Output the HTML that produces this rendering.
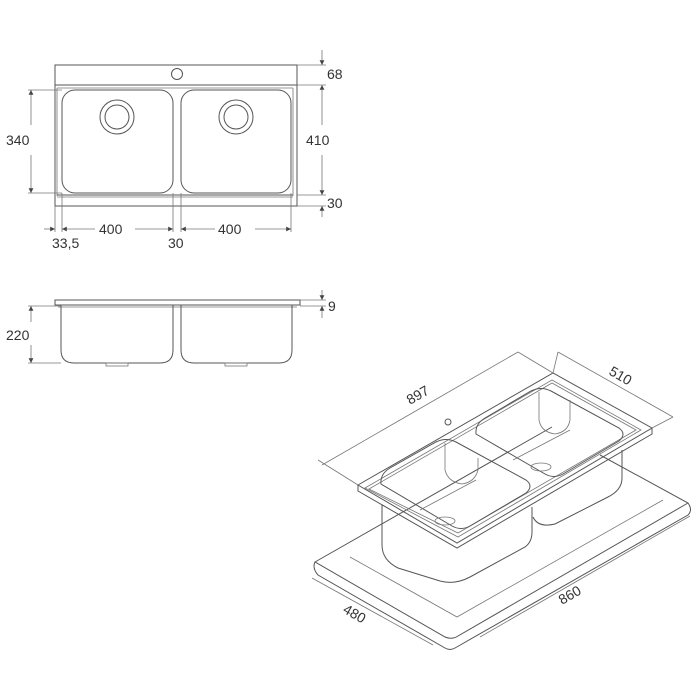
<!DOCTYPE html>
<html><head><meta charset="utf-8"><style>
html,body{margin:0;padding:0;background:#fff;}
svg{display:block;}
text{font-family:"Liberation Sans",sans-serif;font-size:14px;fill:#333;}
.l{fill:none;stroke:#555;stroke-width:1;}
.t{fill:none;stroke:#777;stroke-width:0.8;}
</style></head><body>
<svg width="700" height="700" viewBox="0 0 700 700" xmlns="http://www.w3.org/2000/svg">
<defs><marker id="a" viewBox="0 0 6 6" refX="6" refY="3" markerWidth="6" markerHeight="6" orient="auto-start-reverse"><path d="M0,0 L6,3 L0,6 z" fill="#444"/></marker></defs>
<!-- TOP VIEW -->
<rect class="l" x="55" y="65" width="242" height="141"/>
<line class="l" x1="55" y1="85" x2="297" y2="85"/>
<line class="t" x1="57" y1="88" x2="293" y2="88"/>
<line class="t" x1="57" y1="88" x2="57" y2="196"/>
<line class="t" x1="293" y1="88" x2="293" y2="196"/>
<line class="l" x1="57" y1="195" x2="293" y2="195"/>
<line class="t" x1="57" y1="197" x2="293" y2="197"/>
<circle class="l" cx="177" cy="74" r="5.5"/>
<rect class="l" x="62" y="90" width="111" height="103" rx="13"/>
<rect class="l" x="181" y="90" width="110" height="103" rx="13"/>
<circle class="l" cx="117" cy="117" r="17"/><circle class="l" cx="117" cy="117" r="12"/>
<circle class="l" cx="236" cy="117" r="17"/><circle class="l" cx="236" cy="117" r="12"/>
<line class="t" x1="28" y1="90" x2="62" y2="90"/><line class="t" x1="28" y1="193" x2="62" y2="193"/>
<line class="t" x1="31" y1="90" x2="31" y2="125" marker-start="url(#a)"/>
<line class="t" x1="31" y1="155" x2="31" y2="193" marker-end="url(#a)"/>
<text x="6" y="145">340</text>
<line class="t" x1="297" y1="65" x2="326" y2="65"/>
<line class="t" x1="297" y1="85" x2="326" y2="85"/>
<line class="t" x1="297" y1="195" x2="326" y2="195"/>
<line class="t" x1="297" y1="206" x2="326" y2="206"/>
<line class="t" x1="322" y1="50" x2="322" y2="65" marker-end="url(#a)"/>
<line class="t" x1="322" y1="85" x2="322" y2="125" marker-start="url(#a)"/>
<line class="t" x1="322" y1="155" x2="322" y2="195" marker-end="url(#a)"/>
<line class="t" x1="322" y1="206" x2="322" y2="217" marker-start="url(#a)"/>
<text x="327" y="79">68</text>
<text x="306" y="145">410</text>
<text x="327" y="208">30</text>
<line class="t" x1="55" y1="206" x2="55" y2="232"/>
<line class="t" x1="62" y1="193" x2="62" y2="232"/>
<line class="t" x1="173" y1="193" x2="173" y2="232"/>
<line class="t" x1="181" y1="193" x2="181" y2="232"/>
<line class="t" x1="291" y1="193" x2="291" y2="232"/>
<line class="t" x1="44" y1="229" x2="55" y2="229" marker-end="url(#a)"/>
<line class="t" x1="62" y1="229" x2="95" y2="229" marker-start="url(#a)"/>
<line class="t" x1="135" y1="229" x2="173" y2="229" marker-end="url(#a)"/>
<line class="t" x1="181" y1="229" x2="215" y2="229" marker-start="url(#a)"/>
<line class="t" x1="255" y1="229" x2="291" y2="229" marker-end="url(#a)"/>
<text x="99" y="234">400</text>
<text x="218" y="234">400</text>
<text x="52" y="248">33,5</text>
<text x="168" y="248">30</text>
<!-- SIDE VIEW -->
<rect class="l" x="55" y="300" width="245" height="5"/>
<line class="t" x1="58" y1="307" x2="297" y2="307"/>
<path class="l" d="M61,305 V350 Q61,363 74,363 H160 Q173,363 173,350 V305"/>
<path class="l" d="M181,305 V350 Q181,363 194,363 H279 Q292,363 292,350 V305"/>
<rect class="t" x="106" y="363" width="22" height="3"/>
<rect class="t" x="225" y="363" width="22" height="3"/>
<line class="t" x1="28" y1="306" x2="61" y2="306"/><line class="t" x1="28" y1="363" x2="61" y2="363"/>
<line class="t" x1="31" y1="306" x2="31" y2="322" marker-start="url(#a)"/>
<line class="t" x1="31" y1="345" x2="31" y2="363" marker-end="url(#a)"/>
<text x="6" y="340">220</text>
<line class="t" x1="300" y1="300" x2="326" y2="300"/><line class="t" x1="300" y1="306" x2="326" y2="306"/>
<line class="t" x1="322" y1="290" x2="322" y2="300" marker-end="url(#a)"/>
<line class="t" x1="322" y1="306" x2="322" y2="318" marker-start="url(#a)"/>
<text x="328" y="311">9</text>
<!-- ISOMETRIC -->
<path class="l" d="M315,562 L552,427 M600,455 L688,503 Q693,510 688,515 L455,648 Q450,651 445,648 L318,575 Q312,568 315,562 L445,637 Q452,640 458,636 L688,503"/>
<path class="t" d="M350,557 L457,617 L663,500"/>
<path class="l" d="M382,505 V545 Q382,560 398,568 L440,581 Q455,585 470,577 L525,547 Q532,542 532,532 V507"/>
<path class="l" d="M533,517 Q538,528 555,524 L608,497 Q622,490 622,478 V450"/>
<path class="l" d="M358,485 L553,373 L652,428 L457,543 Z"/>
<path class="l" d="M358,485 L358,491 L457,548 L652,434 L652,428"/>
<path class="t" d="M365,488 L552,380 L641,430 L458,537 Z"/>
<path class="t" d="M369,489 L552,383 L636,430 L458,533 Z"/>
<circle class="l" cx="448" cy="422" r="3"/>
<path class="l" d="M381,484 Q380,474 390,468 L436,442 Q446,437 456,442 L526,480 Q534,486 526,493 L470,526 Q461,531 452,526 Z"/>
<path class="t" d="M445,443 V470 Q448,482 462,484 Q475,482 478,470 V458"/>
<path class="t" d="M420,510 L476,480"/>
<ellipse class="t" cx="445" cy="521" rx="10" ry="4"/>
<path class="l" d="M476,434 Q475,424 485,418 L531,391 Q541,386 551,391 L619,428 Q627,434 619,441 L563,474 Q554,479 545,474 Z"/>
<path class="t" d="M539,392 V420 Q541,432 555,434 Q568,432 570,420 V400"/>
<path class="t" d="M513,460 L570,430"/>
<ellipse class="t" cx="541" cy="467" rx="10" ry="4"/>
<line class="t" x1="322" y1="465" x2="518" y2="352"/>
<line class="t" x1="318" y1="460" x2="358" y2="485"/>
<line class="t" x1="518" y1="352" x2="553" y2="373"/>
<text x="0" y="0" transform="translate(410,405) rotate(-30)">897</text>
<line class="t" x1="558" y1="352" x2="673" y2="417"/>
<line class="t" x1="558" y1="352" x2="553" y2="373"/>
<line class="t" x1="673" y1="417" x2="652" y2="428"/>
<text x="0" y="0" transform="translate(608,374) rotate(30)">510</text>
<line class="t" x1="312" y1="578" x2="433" y2="645"/>
<text x="0" y="0" transform="translate(342,612) rotate(30)">480</text>
<line class="t" x1="480" y1="637" x2="690" y2="516"/>
<text x="0" y="0" transform="translate(562,605) rotate(-30)">860</text>
</svg>
</body></html>
